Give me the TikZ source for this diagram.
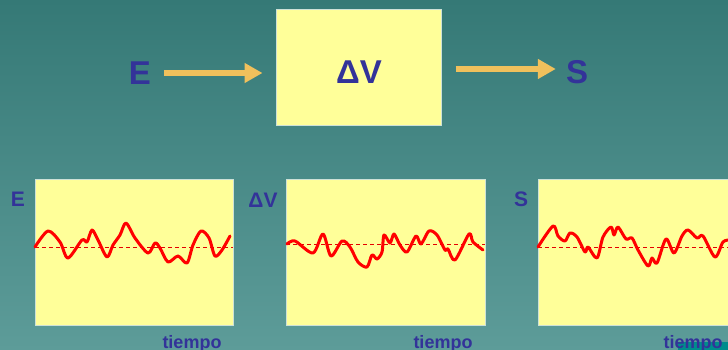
\documentclass[tikz,border=0pt]{standalone}
\usepackage{fontspec}
\setmainfont{Liberation Sans}
\usetikzlibrary{arrows.meta,positioning}
\definecolor{tealtop}{RGB}{53,121,118}
\definecolor{tealbot}{RGB}{93,156,153}
\definecolor{tealdeep}{RGB}{0,140,140}
\definecolor{paneedge}{RGB}{205,225,215}
\definecolor{paneyellow}{RGB}{255,255,153}
\definecolor{labelblue}{RGB}{51,51,153}
\definecolor{arrowgold}{RGB}{240,192,92}
\definecolor{signalred}{RGB}{255,0,0}
\begin{document}
\begin{tikzpicture}[x=1pt,y=-1pt]

    \tikzset{
      panel/.style={
        draw=paneedge,
        line width=1pt,
        fill=paneyellow,
        inner sep=0pt,
      },
      biglabel/.style={
        text=labelblue,
        font=\fontsize{33}{36}\selectfont\bfseries,
        inner sep=0pt,
      },
      smalllabel/.style={
        text=labelblue,
        font=\fontsize{21}{24}\selectfont\bfseries,
        inner sep=0pt,
      },
      timelabel/.style={
        text=labelblue,
        font=\fontsize{18}{20}\selectfont\bfseries,
        inner sep=0pt,
      },
      flow/.style={
        arrowgold,
        line width=6pt,
        -{Triangle[length=18pt,width=19pt]},
      },
      wave/.style={
        signalred,
        line width=3pt,
        line join=round,
        line cap=round,
      },
      zero/.style={
        signalred!90!black,
        line width=0.8pt,
        dash pattern=on 4pt off 3pt,
      },
    }
    \useasboundingbox (0,0) rectangle (728,350);
    \clip (0,0) rectangle (728,350);
    \shade[top color=tealtop, bottom color=tealbot] (0,0) rectangle (728,350);
    \fill[tealdeep] (678,342) rectangle (728,350);

	% block diagram
	\node[panel, minimum width=165pt, minimum height=116pt] (box) at (358.5,68) {};
	\node[biglabel] (boxtext) at (359,72) {ΔV};
	\node[biglabel] (in) at (140,73) {E};
	\node[biglabel] (out) at (577,72) {S};

	\draw[flow, shorten <=13pt, shorten >=13pt] (in.east) -- (in.east -| box.west);
	\draw[flow, shorten <=14pt, shorten >=10pt] ([yshift=-1pt]box.east) -- ([yshift=-1pt]box.east -| out.west);

	% signal panels
	\node[panel, minimum width=198pt, minimum height=146pt] (pE) at (134,252) {};
	\node[panel, minimum width=199pt, minimum height=146pt] (pV) at (385.5,252) {};
	\node[panel, minimum width=200pt, minimum height=146pt] (pS) at (638,252) {};

	\node[smalllabel] (lE) at (18,199) {E};
	\node[smalllabel] (lV) at (263,200) {ΔV};
	\node[smalllabel] (lS) at (521,199) {S};

	\node[timelabel, anchor=base] (tE) at (192,348) {tiempo};
	\node[timelabel, anchor=base] (tV) at (443,348) {tiempo};
	\node[timelabel, anchor=base] (tS) at (693,348) {tiempo};

	\draw[zero] (35,247) -- (233,247);
	\draw[zero] (286,244) -- (485,244);
	\draw[zero] (538,247) -- (728,247);

	\draw[wave] plot[smooth, tension=0.5] coordinates {
	  (35,247) (48,231) (60,242) (68,258) (82,240) (87,242) (92,230) (98,240)
	  (107,257) (113,245) (120,235) (126,223) (135,238) (148,253) (155,243)
	  (160,248) (168,262) (178,256) (187,263) (193,245) (201,231) (209,238)
	  (215,256) (222,250) (230,236)};
	\draw[wave] plot[smooth, tension=0.5] coordinates {
	  (287,244) (295,241) (313,253) (323,234) (331,256) (342,241) (350,247)
	  (358,262) (367,267) (372,255) (377,259) (382,252) (384,235) (390,243)
	  (394,234) (400,245) (407,252) (416,236) (421,244) (429,231) (437,235)
	  (445,250) (448,249) (455,260) (469,234) (473,242) (483,250)};
	\draw[wave] plot[smooth, tension=0.5] coordinates {
	  (538,247) (553,226) (558,236) (565,241) (570,233) (577,237) (585,252)
	  (588,247) (597,258) (603,237) (611,227) (614,235) (618,227) (626,239)
	  (632,238) (638,250) (648,266) (652,258) (657,263) (666,239) (674,253)
	  (682,236) (688,230) (697,238) (703,236) (715,257) (723,242) (730,240)};

\end{tikzpicture}
\end{document}
